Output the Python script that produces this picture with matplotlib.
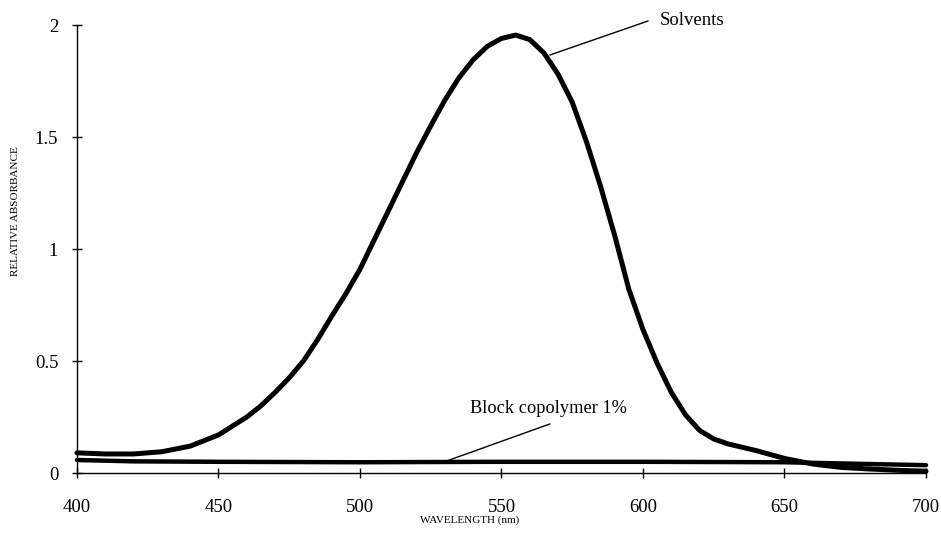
import matplotlib
matplotlib.use("Agg")
import matplotlib.pyplot as plt

# Data
solv_wl = [400, 410, 420, 430, 440, 450, 460, 465, 470, 475, 480, 485, 490, 495,
           500, 505, 510, 515, 520, 525, 530, 535, 540, 545, 550, 555, 560, 565,
           570, 575, 580, 585, 590, 595, 600, 605, 610, 615, 620, 625, 630, 640,
           650, 660, 670, 680, 690, 700]
solv_abs = [0.09, 0.085, 0.085, 0.095, 0.12, 0.17, 0.25, 0.30, 0.36, 0.425, 0.50, 0.595,
            0.70, 0.80, 0.91, 1.04, 1.17, 1.30, 1.43, 1.55, 1.665, 1.765, 1.845, 1.905,
            1.94, 1.955, 1.935, 1.875, 1.78, 1.655, 1.48, 1.28, 1.06, 0.82, 0.64, 0.49,
            0.36, 0.26, 0.19, 0.152, 0.13, 0.10, 0.065, 0.04, 0.025, 0.018, 0.012, 0.008]

copo_wl = [400, 420, 450, 500, 550, 600, 650, 680, 700]
copo_abs = [0.058, 0.052, 0.050, 0.048, 0.050, 0.050, 0.048, 0.040, 0.035]

xticks = [400, 450, 500, 550, 600, 650, 700]
yticks = [0, 0.5, 1, 1.5, 2]
ytick_labels = ["0", "0.5", "1", "1.5", "2"]

plt.rcParams['font.family'] = ['Liberation Serif', 'DejaVu Serif']

fig = plt.figure(figsize=(9.41, 5.48), dpi=100)
ax = fig.add_axes([77/941, 75/548, 849/941, 448/548])

ax.plot(copo_wl, copo_abs, color='black', lw=3.2, solid_capstyle='round',
        solid_joinstyle='round', clip_on=False)
ax.plot(solv_wl, solv_abs, color='black', lw=3.6, solid_capstyle='round',
        solid_joinstyle='round', clip_on=False)

ax.set_xlim(400, 700)
ax.set_ylim(0, 2)
ax.set_xticks(xticks)
ax.set_xticklabels([str(t) for t in xticks])
ax.set_yticks(yticks)
ax.set_yticklabels(ytick_labels)

for s in ['top', 'right']:
    ax.spines[s].set_visible(False)
for s in ['left', 'bottom']:
    ax.spines[s].set_linewidth(1.0)

ax.tick_params(axis='both', direction='inout', length=7, width=1.0, labelsize=13.5)
ax.tick_params(axis='x', pad=15)
ax.tick_params(axis='y', pad=10)

ax.set_xlabel("WAVELENGTH (nm)", fontsize=8)
ax.xaxis.set_label_coords(0.463, -0.095)
ax.set_ylabel("RELATIVE ABSORBANCE", fontsize=8)
ax.yaxis.set_label_coords(-0.067, 0.585)

# Annotations
ax.annotate('', xy=(567.1, 1.866), xytext=(601.8, 2.018),
            arrowprops=dict(arrowstyle='-', color='black', lw=1.0,
                            shrinkA=0, shrinkB=0), annotation_clip=False)
ax.text(606, 2.022, "Solvents", fontsize=13.5, ha='left', va='center', clip_on=False)

ax.annotate('', xy=(530.7, 0.054), xytext=(567.1, 0.219),
            arrowprops=dict(arrowstyle='-', color='black', lw=1.0,
                            shrinkA=0, shrinkB=0), annotation_clip=False)
ax.text(538.9, 0.286, "Block copolymer 1%", fontsize=13.2, ha='left', va='center')

fig.savefig("out.png", dpi=100)
